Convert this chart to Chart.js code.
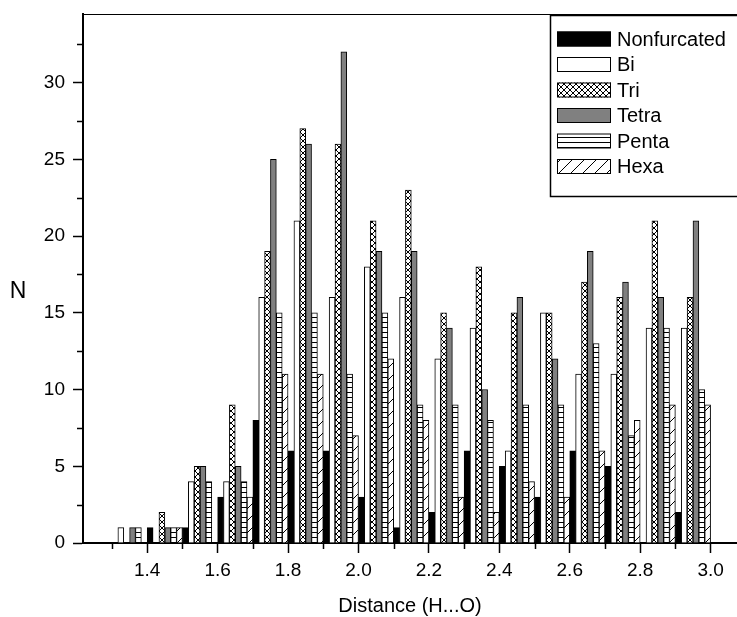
<!DOCTYPE html>
<html>
<head>
<meta charset="utf-8">
<script src="https://cdn.jsdelivr.net/npm/chart.js@4.4.0/dist/chart.umd.min.js"></script>
<style>
  html, body { margin: 0; padding: 0; background: #fff; }
  #wrap { width: 737px; height: 617px; }
</style>
</head>
<body>
<div id="wrap"><canvas id="hbondChart" width="737" height="617"></canvas></div>
<script>
// bin centres, H...O distance (0.1 wide bins)
const distances = [1.35, 1.45, 1.55, 1.65, 1.75, 1.85, 1.95, 2.05, 2.15, 2.25, 2.35, 2.45, 2.55, 2.65, 2.75, 2.85, 2.95];

const nonfurcated = [0, 1, 1, 3, 8, 6, 6, 3, 1, 2, 6, 5, 3, 6, 5, 0, 2];
const bi          = [1, 0, 4, 4, 16, 21, 16, 18, 16, 12, 14, 6, 15, 11, 11, 14, 14];
const tri         = [0, 2, 5, 9, 19, 27, 26, 21, 23, 15, 18, 15, 15, 17, 16, 21, 16];
const tetra       = [1, 1, 5, 5, 25, 26, 32, 19, 19, 14, 10, 16, 12, 19, 17, 16, 21];
const penta       = [1, 1, 4, 4, 15, 15, 11, 15, 9, 9, 8, 9, 9, 13, 7, 14, 10];
const hexa        = [0, 1, 0, 3, 11, 11, 7, 12, 8, 3, 2, 4, 3, 6, 8, 9, 9];

const seriesNames = ["Nonfurcated", "Bi", "Tri", "Tetra", "Penta", "Hexa"];

// minor tick positions
const yMinorTicks = [2.5, 7.5, 12.5, 17.5, 22.5, 27.5, 32.5];
const xMinorTicks = [1.3, 1.5, 1.7, 1.9, 2.1, 2.3, 2.5, 2.7, 2.9];

const FONT = "'Liberation Sans', Arial, sans-serif";

// fill patterns
function makePattern(kind) {
  const c = document.createElement("canvas");
  const p = c.getContext("2d");
  if (kind === "cross") {
    c.width = 6; c.height = 6;
    p.fillStyle = "#fff"; p.fillRect(0, 0, 6, 6);
    p.strokeStyle = "#000"; p.lineWidth = 1;
    p.beginPath();
    p.moveTo(0, 0); p.lineTo(6, 6);
    p.moveTo(6, 0); p.lineTo(0, 6);
    p.stroke();
  } else if (kind === "horiz") {
    c.width = 5; c.height = 5;
    p.fillStyle = "#fff"; p.fillRect(0, 0, 5, 5);
    p.fillStyle = "#000"; p.fillRect(0, 2, 5, 1);
  } else if (kind === "diag") {
    c.width = 12; c.height = 12;
    p.fillStyle = "#fff"; p.fillRect(0, 0, 12, 12);
    p.strokeStyle = "#000"; p.lineWidth = 1;
    p.beginPath();
    p.moveTo(-1, 13); p.lineTo(13, -1);
    p.stroke();
  }
  return p.createPattern(c, "repeat");
}

const fills = ["#000000", "#ffffff", makePattern("cross"), "#808080", makePattern("horiz"), makePattern("diag")];
const seriesValues = [nonfurcated, bi, tri, tetra, penta, hexa];

const datasets = seriesNames.map((name, i) => ({
  label: name,
  data: distances.map((d, j) => ({ x: d, y: seriesValues[i][j] })),
  backgroundColor: fills[i],
  borderColor: "#000",
  borderWidth: 1,
  categoryPercentage: 1,
  barPercentage: 1,
}));

// extra drawing: minor ticks, top frame, axis titles, legend box
const decorPlugin = {
  id: "decor",
  afterDraw(chart) {
    const ctx = chart.ctx;
    const area = chart.chartArea;
    const xs = chart.scales.x;
    const ys = chart.scales.y;
    ctx.save();
    ctx.strokeStyle = "#000";

    // minor ticks
    ctx.lineWidth = 1.5;
    ctx.beginPath();
    yMinorTicks.forEach((v) => {
      const py = Math.round(ys.getPixelForValue(v)) + 0.5;
      ctx.moveTo(area.left - 6, py);
      ctx.lineTo(area.left, py);
    });
    xMinorTicks.forEach((v) => {
      const px = Math.round(xs.getPixelForValue(v)) + 0.5;
      ctx.moveTo(px, area.bottom);
      ctx.lineTo(px, area.bottom + 6);
    });
    ctx.stroke();

    // top frame
    ctx.lineWidth = 1;
    ctx.beginPath();
    ctx.moveTo(area.left, area.top + 0.5);
    ctx.lineTo(area.right, area.top + 0.5);
    ctx.stroke();

    // axis titles
    ctx.fillStyle = "#000";
    ctx.textAlign = "center";
    ctx.textBaseline = "middle";
    ctx.font = "20px " + FONT;
    ctx.fillText("Distance (H...O)", (area.left + area.right) / 2, 606);
    ctx.font = "23px " + FONT;
    ctx.fillText("N", 18, 292);

    // legend
    ctx.lineWidth = 1.5;
    ctx.strokeRect(550.5, 15.5, 200, 181);
    ctx.font = "20px " + FONT;
    ctx.textAlign = "left";
    seriesNames.forEach((name, i) => {
      const cy = 39 + 25.5 * i;
      ctx.fillStyle = fills[i];
      ctx.fillRect(557, cy - 7.5, 54, 15);
      ctx.lineWidth = 1;
      ctx.strokeStyle = "#000";
      ctx.strokeRect(557.5, cy - 7, 53, 14);
      ctx.fillStyle = "#000";
      ctx.fillText(name, 617, cy + 1);
    });
    ctx.restore();
  },
};

const ctx = document.getElementById("hbondChart").getContext("2d");
const hbondChart = new Chart(ctx, {
  type: "bar",
  data: { datasets: datasets },
  plugins: [decorPlugin],
  options: {
    responsive: false,
    animation: false,
    devicePixelRatio: 1,
    layout: { padding: { top: 14, right: 0, left: 0, bottom: 0 } },
    plugins: {
      legend: { display: false },
      tooltip: { enabled: false },
    },
    scales: {
      x: {
        type: "linear",
        offset: false,
        min: 1.2176,
        max: 3.075,
        afterFit: (s) => {
          s.height = 74;
          s.paddingLeft = 0;
          s.paddingRight = 0;
        },
        border: { color: "#000", width: 2 },
        grid: { offset: false, drawOnChartArea: false, tickLength: 10, tickColor: "#000", tickWidth: 1.5 },
        ticks: {
          stepSize: 0.2,
          includeBounds: false,
          autoSkip: false,
          maxRotation: 0,
          padding: 6,
          color: "#000",
          font: { family: FONT, size: 19 },
          callback: (v) => Number(v).toFixed(1),
        },
      },
      y: {
        min: 0,
        max: 34.47,
        afterFit: (s) => {
          s.width = 83;
          s.paddingTop = 0;
          s.paddingBottom = 0;
        },
        border: { color: "#000", width: 2 },
        grid: { drawOnChartArea: false, tickLength: 10, tickColor: "#000", tickWidth: 1.5 },
        ticks: {
          stepSize: 5,
          includeBounds: false,
          padding: 8,
          color: "#000",
          font: { family: FONT, size: 19 },
        },
      },
    },
  },
});
</script>
</body>
</html>
